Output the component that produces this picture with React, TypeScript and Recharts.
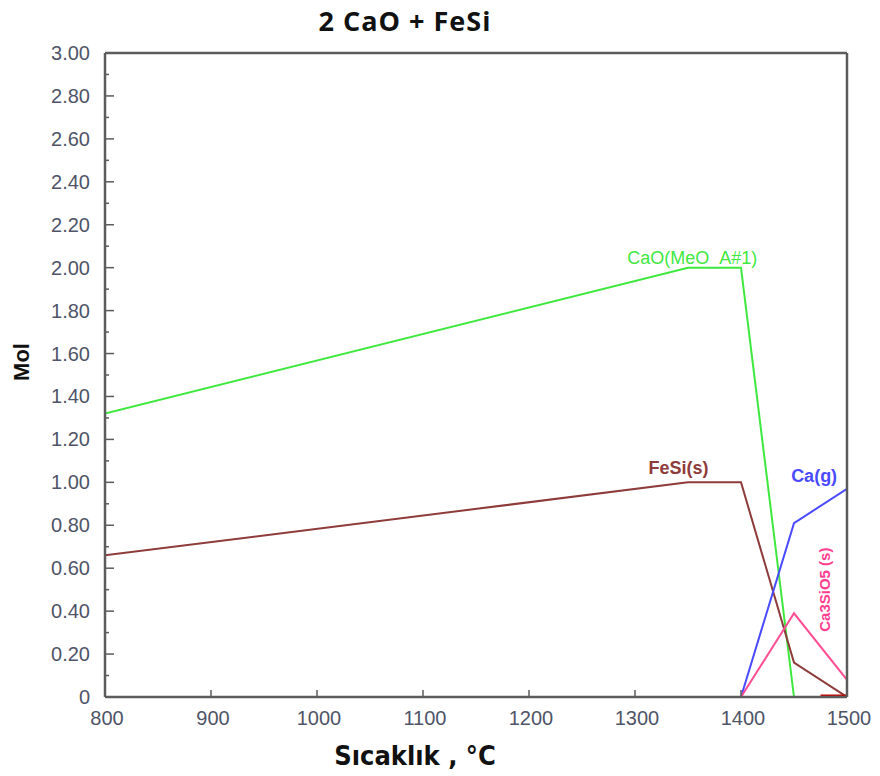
import { LineChart, Line, XAxis, YAxis, ReferenceDot } from 'recharts'

// temperature (°C) / mol pairs
const caoTemp = [800, 1350, 1400, 1450]
const caoMol = [1.32, 2.0, 2.0, 0]

const fesiTemp = [800, 1350, 1400, 1450, 1500]
const fesiMol = [0.66, 1.0, 1.0, 0.16, 0]

const caTemp = [1400, 1450, 1500]
const caMol = [0, 0.81, 0.97]

const c3sTemp = [1400, 1450, 1500]
const c3sMol = [0, 0.39, 0.08]

const redTemp = [1475, 1500]
const redMol = [0, 0]

const xTicks = [800, 900, 1000, 1100, 1200, 1300, 1400, 1500]
const yTicks = [
  0, 0.1, 0.2, 0.3, 0.4, 0.5, 0.6, 0.7, 0.8, 0.9, 1.0,
  1.1, 1.2, 1.3, 1.4, 1.5, 1.6, 1.7, 1.8, 1.9, 2.0,
  2.1, 2.2, 2.3, 2.4, 2.5, 2.6, 2.7, 2.8, 2.9, 3.0,
]

const toSeries = (ts: number[], ms: number[]) => ts.map((t, i) => ({ t, mol: ms[i] }))

const AXIS = '#5c5c5c'
const TICK_TEXT = '#4f5468'
const tickFont = { fontFamily: 'Liberation Sans, Arial, sans-serif', fontSize: 20, fill: TICK_TEXT }

const isMajor = (v: number) => Math.round(v * 10) % 2 === 0
const yLabel = (v: number) => (v === 0 ? '0' : v.toFixed(2))

function LeftTick({ x, y, payload }: any) {
  const v = payload.value
  const major = isMajor(v)
  return (
    <g>
      <line x1={x} x2={x + (major ? 9 : 4)} y1={y} y2={y} stroke={AXIS} strokeWidth={1.5} />
      {major && (
        <text x={x - 15} y={y} dy={7} textAnchor="end" {...tickFont}>{yLabel(v)}</text>
      )}
    </g>
  )
}

function RightTick({ x, y, payload }: any) {
  const major = isMajor(payload.value)
  return <line x1={x} x2={x - (major ? 9 : 4)} y1={y} y2={y} stroke={AXIS} strokeWidth={1.5} />
}

function BottomTick({ x, y, payload }: any) {
  return (
    <g>
      <line x1={x} x2={x} y1={y} y2={y - 7} stroke={AXIS} strokeWidth={1.5} />
      <text x={x + 2} y={y + 28} textAnchor="middle" {...tickFont}>{payload.value}</text>
    </g>
  )
}

function TopTick({ x, y }: any) {
  return <line x1={x} x2={x} y1={y} y2={y + 7} stroke={AXIS} strokeWidth={1.5} />
}

function RotatedLabel({ viewBox }: any) {
  const cx = viewBox.x + viewBox.width / 2
  const cy = viewBox.y + viewBox.height / 2
  return (
    <text x={cx} y={cy} transform={`rotate(-90 ${cx} ${cy})`} textAnchor="middle" dy={5}
      fill="#ff3d8f" fontWeight="bold" fontSize={15} fontFamily="Liberation Sans, Arial, sans-serif">
      Ca3SiO5 (s)
    </text>
  )
}

export default function App() {
  const axisLine = { stroke: AXIS, strokeWidth: 2.5 }
  return (
    <div style={{ position: 'absolute', left: 0, top: 0, width: 880, height: 776, background: '#fff' }}>
      <div style={{
        position: 'absolute', left: 0, width: 810, top: 2, textAlign: 'center',
        fontFamily: 'Open Sans, sans-serif', fontWeight: 'bold', fontSize: 27, letterSpacing: 1, color: '#111',
      }}>
        2 CaO + FeSi
      </div>
      <div style={{
        position: 'absolute', left: 22, top: 362, transform: 'translate(-50%, -50%) rotate(-90deg)',
        fontFamily: 'Liberation Sans, Arial, sans-serif', fontWeight: 'bold', fontSize: 22, color: '#111',
      }}>
        Mol
      </div>
      <div style={{
        position: 'absolute', left: 415, top: 755, transform: 'translate(-50%, -50%)', whiteSpace: 'nowrap',
        fontFamily: 'Liberation Sans Narrow, DejaVu Sans Condensed, Arial, sans-serif', fontWeight: 'bold',
        fontSize: 27, color: '#111',
      }}>
        Sıcaklık , °C
      </div>

      <LineChart width={880} height={776} margin={{ top: 43, right: 23, bottom: 49, left: 45 }}
        style={{ position: 'absolute', left: 0, top: 0 }}>
        <XAxis dataKey="t" type="number" domain={[800, 1500]} ticks={xTicks} interval={0}
          allowDataOverflow height={30} tickSize={0} tickMargin={0} axisLine={axisLine} tick={<BottomTick />} />
        <XAxis xAxisId="top" orientation="top" dataKey="t" type="number" domain={[800, 1500]} ticks={xTicks}
          interval={0} height={10} tickSize={0} tickMargin={0} axisLine={axisLine} tick={<TopTick />} />
        <YAxis type="number" domain={[0, 3]} ticks={yTicks} interval={0} allowDataOverflow width={60}
          tickSize={0} tickMargin={0} axisLine={axisLine} tick={<LeftTick />} />
        <YAxis yAxisId="right" orientation="right" type="number" domain={[0, 3]} ticks={yTicks} interval={0}
          width={10} tickSize={0} tickMargin={0} axisLine={axisLine} tick={<RightTick />} />

        <Line data={toSeries(caoTemp, caoMol)} dataKey="mol" type="linear" stroke="#3fe83f" strokeWidth={2}
          dot={false} isAnimationActive={false} />
        <Line data={toSeries(fesiTemp, fesiMol)} dataKey="mol" type="linear" stroke="#8e3b3b" strokeWidth={2}
          dot={false} isAnimationActive={false} />
        <Line data={toSeries(caTemp, caMol)} dataKey="mol" type="linear" stroke="#4a4aff" strokeWidth={2}
          dot={false} isAnimationActive={false} />
        <Line data={toSeries(c3sTemp, c3sMol)} dataKey="mol" type="linear" stroke="#ff4d94" strokeWidth={2}
          dot={false} isAnimationActive={false} />
        <Line data={toSeries(redTemp, redMol)} dataKey="mol" type="linear" stroke="#c40000" strokeWidth={5}
          dot={false} isAnimationActive={false} />

        <ReferenceDot x={1354} y={2.045} r={0} fill="none" stroke="none"
          label={{ value: 'CaO(MeO_A#1)', position: 'center', fill: '#3fe83f', fontSize: 18,
            fontFamily: 'Liberation Sans, Arial, sans-serif' }} />
        <ReferenceDot x={1341} y={1.067} r={0} fill="none" stroke="none"
          label={{ value: 'FeSi(s)', position: 'center', fill: '#8e3b3b', fontSize: 18, fontWeight: 'bold',
            fontFamily: 'Liberation Sans, Arial, sans-serif' }} />
        <ReferenceDot x={1469} y={1.03} r={0} fill="none" stroke="none"
          label={{ value: 'Ca(g)', position: 'center', fill: '#4a4aff', fontSize: 18, fontWeight: 'bold',
            fontFamily: 'Liberation Sans, Arial, sans-serif' }} />
        <ReferenceDot x={1479} y={0.5} r={0} fill="none" stroke="none" label={<RotatedLabel />} />
      </LineChart>
    </div>
  )
}
